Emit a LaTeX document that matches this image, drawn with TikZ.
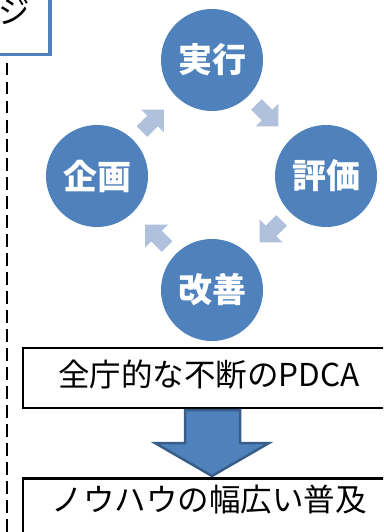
\documentclass[tikz,border=0pt]{standalone}
\usepackage{fontspec}
\newfontfamily\jp{Noto Sans CJK JP}
\usetikzlibrary{calc}
\definecolor{cblue}{RGB}{79,129,189}
\definecolor{lblue}{RGB}{176,193,222}
\definecolor{dblue}{RGB}{56,93,138}
\begin{document}
\begin{tikzpicture}[x=1pt,y=-1pt,
  cyc/.style={circle, fill=cblue, minimum size=102pt, inner sep=0pt, text=white,
    font=\jp\bfseries\fontsize{34}{34}\selectfont},
  box/.style={draw=black, line width=2.5pt, fill=white, minimum width=372pt,
    minimum height=60pt, inner sep=0pt},
  boxtext/.style={inner sep=0pt, font=\jp\fontsize{31.5}{31.5}\selectfont},
  titlebox/.style={draw=cblue, line width=3.5pt, minimum width=160pt, minimum height=110pt, inner sep=0pt},
  bigarrow/.style={fill=cblue, draw=dblue, line width=2.5pt, line join=miter},
  chev/.pic={\fill[lblue] (-15,-7.5)--(0,-7.5)--(0,-16)--(16,0)--(0,16)--(0,7.5)--(-15,7.5)--cycle;}
]
\useasboundingbox (0,0) rectangle (383,532);
\clip (0,0) rectangle (383,532);
% title box (cut off)
\node[titlebox, anchor=south east] (title) at (51.5,56.5) {};
\node[boxtext, anchor=east] (ttext) at (30,12) {ジ};
% dashed line
\coordinate (dtop) at (7,63);
\coordinate (dbot) at (7,540);
\draw[dash pattern=on 12.5pt off 6.5pt, line width=2.8pt] (dtop) -- (dbot);
% cycle
\node[cyc] (exec) at (212,60) {実行};
\node[cyc] (eval) at (326,176) {評価};
\node[cyc] (impr) at (212,290) {改善};
\node[cyc] (plan) at (97,176) {企画};
\pic[rotate=-45] at ($(exec)!0.5!(eval)+(-2,-3)$) {chev};
\pic[rotate=-135] at ($(eval)!0.5!(impr)+(2,-2)$) {chev};
\pic[rotate=135] at ($(impr)!0.5!(plan)+(2,3)$) {chev};
\pic[rotate=45] at ($(plan)!0.5!(exec)+(-2,3)$) {chev};
% boxes
\node[box] (b1) at (209,378) {};
\node[boxtext] (t1) at (209,375) {全庁的な不断のPDCA};
\draw[bigarrow] (185,410) -- (240,410) -- (240,443) -- (269,443) -- (212,476) -- (155,443) -- (185,443) -- cycle;
\node[box, minimum height=70pt, anchor=north] (b2) at (209,477) {};
\node[boxtext] (t2) at (209,499.5) {ノウハウの幅広い普及};
\end{tikzpicture}
\end{document}
